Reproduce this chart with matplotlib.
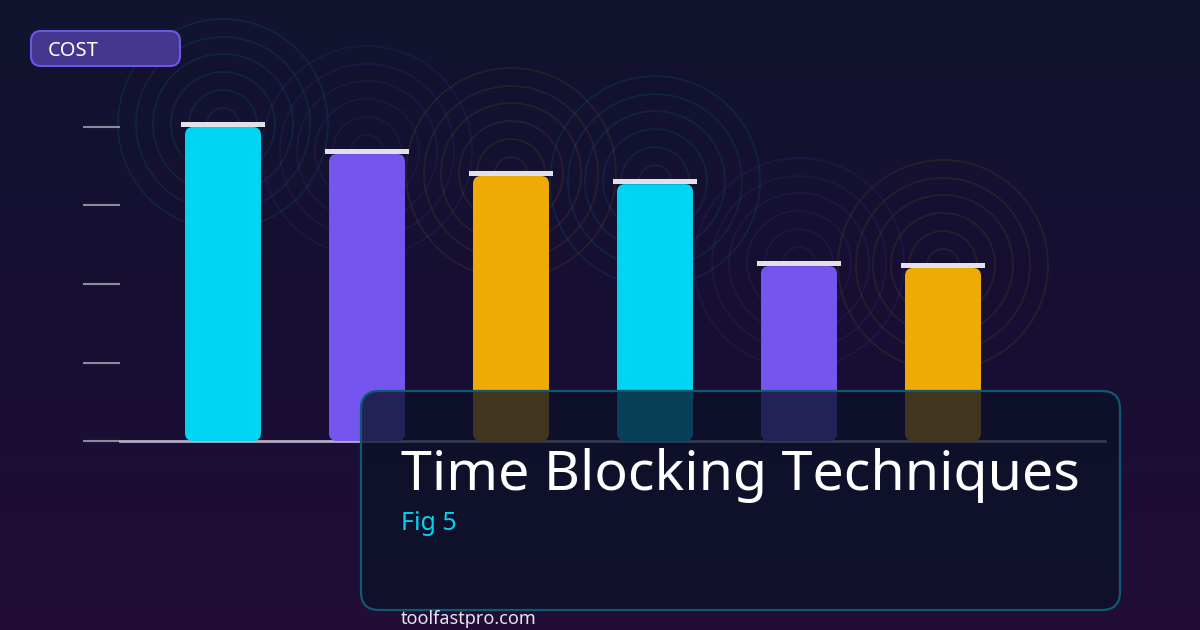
import numpy as np
import matplotlib.pyplot as plt
from matplotlib.patches import FancyBboxPatch
from matplotlib.colors import LinearSegmentedColormap

# chart data (top tick = 100)
values = [100, 91.4, 84.4, 81.8, 55.7, 55.1]
bar_colors = ['#00d4f0', '#7456ee', '#eeaa05', '#00d4f0', '#7456ee', '#eeaa05']
yticks = [0, 25, 50, 75, 100]
title = "Time Blocking Techniques"
subtitle = "Fig 5"
badge = "COST"
footer = "toolfastpro.com"

W, H = 1200, 630
fig = plt.figure(figsize=(W / 100, H / 100), dpi=100)
plt.rcParams['font.family'] = ['Noto Sans', 'DejaVu Sans']

# background gradient
bg = fig.add_axes([0, 0, 1, 1], zorder=-10)
cmap = LinearSegmentedColormap.from_list('bg', ['#11142f', '#170f33', '#220d37'])
bg.imshow(np.linspace(0, 1, 256).reshape(-1, 1), aspect='auto', cmap=cmap,
          extent=[0, 1, 0, 1])
bg.axis('off')

# main chart axes: x px 120..1105, y 0 -> px 441, 100 -> px 127
left, right = 120, 1105
y0, y100 = 441, 127
ax = fig.add_axes([left / W, (H - y0) / H, (right - left) / W, (y0 - y100) / H])
ax.set_facecolor('none')
step = 144.0
x = np.arange(len(values))
ax.set_xlim(-(223 - left) / step, -(223 - left) / step + (right - left) / step)
ax.set_ylim(0, 100)
px_y = 100 / (y0 - y100)   # data units per pixel (y)
px_x = 1 / step            # data units per pixel (x)

# rings behind each bar top
for xi, v, c in zip(x, values, bar_colors):
    for r in [16, 34, 52, 70, 87, 105]:
        ax.scatter([xi], [v + 3 * px_y], s=(2 * r * 0.72) ** 2, facecolors='none',
                   edgecolors=c, alpha=0.09, linewidths=1.3, clip_on=False, zorder=1)

# rounded bars
bw = 76 * px_x
rad = 8 * px_x
for xi, v, c in zip(x, values, bar_colors):
    p = FancyBboxPatch((xi - bw / 2, 0), bw, v,
                       boxstyle=f"round,pad=0,rounding_size={rad}",
                       mutation_aspect=px_y / px_x, fc=c, ec='none', zorder=3)
    ax.add_patch(p)

# caps on top of bars
ax.bar(x, 5 * px_y, bottom=np.array(values), width=84 * px_x,
       color='#e2e1ea', zorder=4, clip_on=False)

ax.set_yticks(yticks)
ax.set_yticklabels([])
ax.set_xticks([])
ax.tick_params(axis='y', length=26.5, width=1.5, color='#8d8a9c', direction='out')
for s in ['top', 'right', 'left']:
    ax.spines[s].set_visible(False)
ax.spines['bottom'].set_color('#b4acc4')
ax.spines['bottom'].set_linewidth(2)
ax.spines['bottom'].set_zorder(2)


def fig_box(x0, y0_, x1, y1, r, fc, ec, lw, z=5):
    # pixel coords from top-left
    p = FancyBboxPatch((x0 / W, (H - y1) / H), (x1 - x0) / W, (y1 - y0_) / H,
                       boxstyle=f"round,pad=0,rounding_size={r / W}",
                       mutation_aspect=W / H, transform=fig.transFigure,
                       fc=fc, ec=ec, lw=lw, zorder=z)
    fig.patches.append(p)
    return p


# overlay title card (semi-transparent, bars show through)
fig_box(361, 391, 1120, 610, 18, (0.043, 0.067, 0.153, 0.76), '#0f5a72', 1.6)

fig.text(401 / W, (H - 490) / H, title, color='white', fontsize=40,
         va='baseline', ha='left', zorder=6)
fig.text(401 / W, (H - 530) / H, subtitle, color='#00d4f0', fontsize=18,
         va='baseline', ha='left', zorder=6)
fig.text(401 / W, (H - 624) / H, footer, color='#e6e4ee', fontsize=13,
         va='baseline', ha='left', zorder=6)

# badge
fig_box(31, 31, 180, 66, 10, '#45378f', '#6b58e6', 1.5)
fig.text(48 / W, (H - 56) / H, badge, color='white', fontsize=14.5,
         va='baseline', ha='left', zorder=6)

fig.savefig('out.png', dpi=100)
